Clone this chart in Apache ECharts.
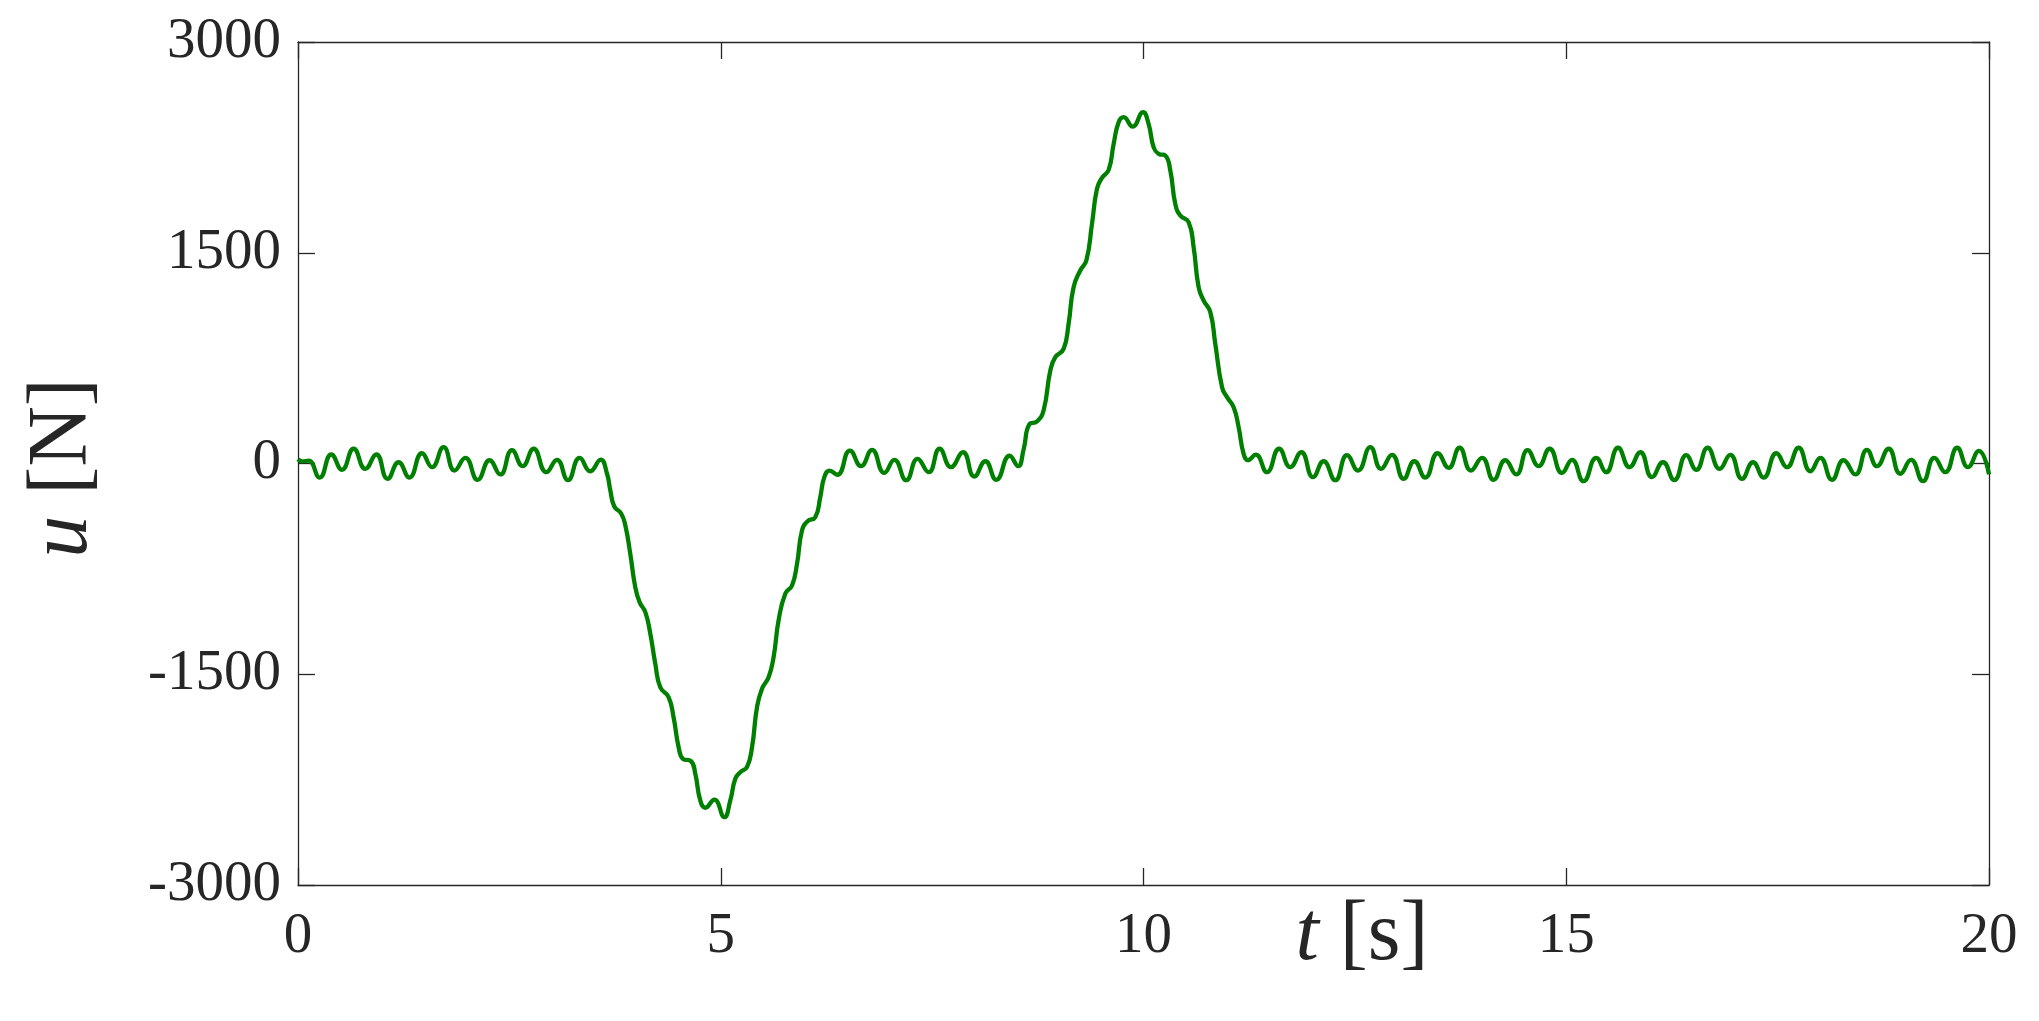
<!DOCTYPE html>
<html>
<head>
<meta charset="utf-8">
<title>u [N] vs t [s]</title>
<script src="https://cdn.jsdelivr.net/npm/echarts@6/dist/echarts.min.js"></script>
<style>
  html, body { margin: 0; padding: 0; background: #ffffff; }
  #chart { width: 2039px; height: 1021px; }
</style>
</head>
<body>
<div id="chart"></div>
<script>
// Time samples [s] (extrema and shoulders of the curve)
var tValues = [
  0, 0.05, 0.125, 0.256, 0.394, 0.52, 0.658, 0.796, 0.926, 1.06, 1.19, 1.317, 1.466, 1.585, 1.722, 1.852,
  1.979, 2.125, 2.266, 2.393, 2.531, 2.657, 2.787, 2.937, 3.063, 3.193, 3.331, 3.457, 3.58,
  3.655, 3.694, 3.741, 3.82, 3.871, 3.93, 3.989, 4.04, 4.108, 4.167, 4.226, 4.285, 4.383, 4.442, 4.502,
  4.553, 4.648, 4.699, 4.758, 4.817, 4.924, 5.042, 5.113, 5.172, 5.231, 5.31, 5.37, 5.429, 5.488, 5.566,
  5.625, 5.684, 5.763, 5.843, 5.902, 5.961, 6.027, 6.118, 6.177, 6.225, 6.287, 6.378, 6.528, 6.659, 6.789,
  6.934, 7.053, 7.194, 7.328, 7.459, 7.589, 7.723, 7.865, 7.999, 8.129, 8.259, 8.417, 8.517, 8.582,
  8.651, 8.74, 8.818, 8.898, 8.957, 9.055, 9.114, 9.173, 9.252, 9.324, 9.391, 9.45, 9.509, 9.588, 9.647,
  9.706, 9.765, 9.871, 9.994, 10.06, 10.12, 10.18, 10.258, 10.317, 10.376, 10.435, 10.534, 10.593, 10.652,
  10.711, 10.79, 10.849, 10.929, 10.988, 11.066, 11.125, 11.184, 11.235, 11.327, 11.46, 11.604, 11.736,
  11.866, 12.005, 12.13, 12.268, 12.407, 12.537, 12.683, 12.809, 12.939, 13.077, 13.203, 13.333, 13.479,
  13.609, 13.739, 13.873, 14.004, 14.141, 14.279, 14.409, 14.543, 14.673, 14.803, 14.95, 15.068, 15.205,
  15.355, 15.472, 15.613, 15.749, 15.876, 16.014, 16.144, 16.278, 16.42, 16.538, 16.672, 16.814, 16.94,
  17.079, 17.209, 17.334, 17.485, 17.611, 17.748, 17.887, 18.005, 18.143, 18.28, 18.419, 18.557, 18.675,
  18.813, 18.951, 19.078, 19.219, 19.353, 19.483, 19.624, 19.75, 19.88, 20.0
];
// Control force u [N] at those times
var uValues = [
  30, 15, 20, -100, 64, -45, 105, -38, 64, -109, 9, -100, 73, -26, 116, -50,
  40, -116, 23, -78, 95, -19, 105, -62, 26, -119, 40, -55, 28,
  -73, -192, -306, -354, -439, -643, -880, -987, -1058, -1212, -1426, -1592, -1663, -1806, -2019,
  -2102, -2118, -2208, -2398, -2450, -2393, -2517, -2398, -2244, -2197, -2161, -2018, -1734, -1603, -1521,
  -1378, -1117, -927, -868, -714, -477, -411, -382, -240, -97, -50, -80, 92, -19, 97,
  -67, 26, -119, 33, -62, 105, -26, 80, -93, 16, -116, 55, -19, 100,
  280, 299, 377, 662, 757, 816, 994, 1255, 1374, 1445, 1706, 1955, 2033, 2090, 2275,
  2429, 2465, 2398, 2500, 2418, 2251, 2204, 2192, 2085, 1848, 1765, 1717, 1539, 1255,
  1160, 1077, 852, 543, 472, 401, 259, 69, 24, 63, -62, 105, -26,
  80, -97, 16, -119, 59, -50, 116, -38, 62, -109, 16, -100, 73,
  -31, 112, -50, 40, -116, 23, -78, 95, -19, 105, -67, 26, -126,
  40, -62, 112, -26, 80, -97, 9, -119, 59, -45, 112, -38, 62,
  -109, 9, -100, 73, -26, 112, -55, 40, -116, 23, -78, 97, -19,
  105, -73, 26, -126, 40, -62, 112, -26, 90, -78
];
var xTickLabels = ['0', '5', '10', '15', '20'];
var yTickLabels = ['-3000', '-1500', '0', '1500', '3000'];

var seriesData = tValues.map(function (t, i) { return [t, uValues[i]]; });

var axisColor = '#262626';
var fontFam = '"Liberation Serif", "Times New Roman", serif';

var chart = echarts.init(document.getElementById('chart'), null, { renderer: 'canvas' });

function boxAxis(extra) {
  return Object.assign({
    type: 'value',
    axisLine: { show: true, onZero: false, lineStyle: { color: axisColor, width: 1.3 } },
    axisTick: { show: true, inside: true, length: 17, lineStyle: { color: axisColor, width: 1.3 } },
    splitLine: { show: false }
  }, extra);
}

chart.setOption({
  backgroundColor: '#ffffff',
  animation: false,
  grid: { left: 298, right: 50, top: 42, bottom: 136, containLabel: false },
  xAxis: [
    boxAxis({
      position: 'bottom', min: 0, max: 20, interval: 5,
      axisLabel: {
        show: true, margin: 24, color: axisColor, fontSize: 57, fontFamily: fontFam,
        formatter: function (v) { return xTickLabels[Math.round(v / 5)]; }
      }
    }),
    boxAxis({ position: 'top', min: 0, max: 20, interval: 5, axisLabel: { show: false } })
  ],
  yAxis: [
    boxAxis({
      position: 'left', min: -3000, max: 3000, interval: 1500,
      axisLabel: {
        show: true, margin: 17, color: axisColor, fontSize: 57, fontFamily: fontFam,
        padding: [8, 0, 0, 0],
        formatter: function (v) { return yTickLabels[Math.round((v + 3000) / 1500)]; }
      }
    }),
    boxAxis({ position: 'right', min: -3000, max: 3000, interval: 1500, axisLabel: { show: false } })
  ],
  series: [{
    type: 'line',
    xAxisIndex: 0,
    yAxisIndex: 0,
    data: seriesData,
    smooth: 0.5,
    showSymbol: false,
    symbol: 'none',
    lineStyle: { color: '#008000', width: 4.3 },
    clip: true
  }],
  graphic: [
    {
      type: 'text',
      x: 1362, y: 937,
      style: {
        text: '{i|t} [s]',
        font: '84px ' + fontFam,
        fill: axisColor,
        align: 'center',
        verticalAlign: 'middle',
        rich: { i: { fontStyle: 'italic', fontSize: 84, fontFamily: fontFam, fill: axisColor } }
      }
    },
    {
      type: 'text',
      x: 64, y: 468,
      rotation: Math.PI / 2,
      style: {
        text: '{i|u} [N]',
        font: '84px ' + fontFam,
        fill: axisColor,
        align: 'center',
        verticalAlign: 'middle',
        rich: { i: { fontStyle: 'italic', fontSize: 84, fontFamily: fontFam, fill: axisColor } }
      }
    }
  ]
});
</script>
</body>
</html>
